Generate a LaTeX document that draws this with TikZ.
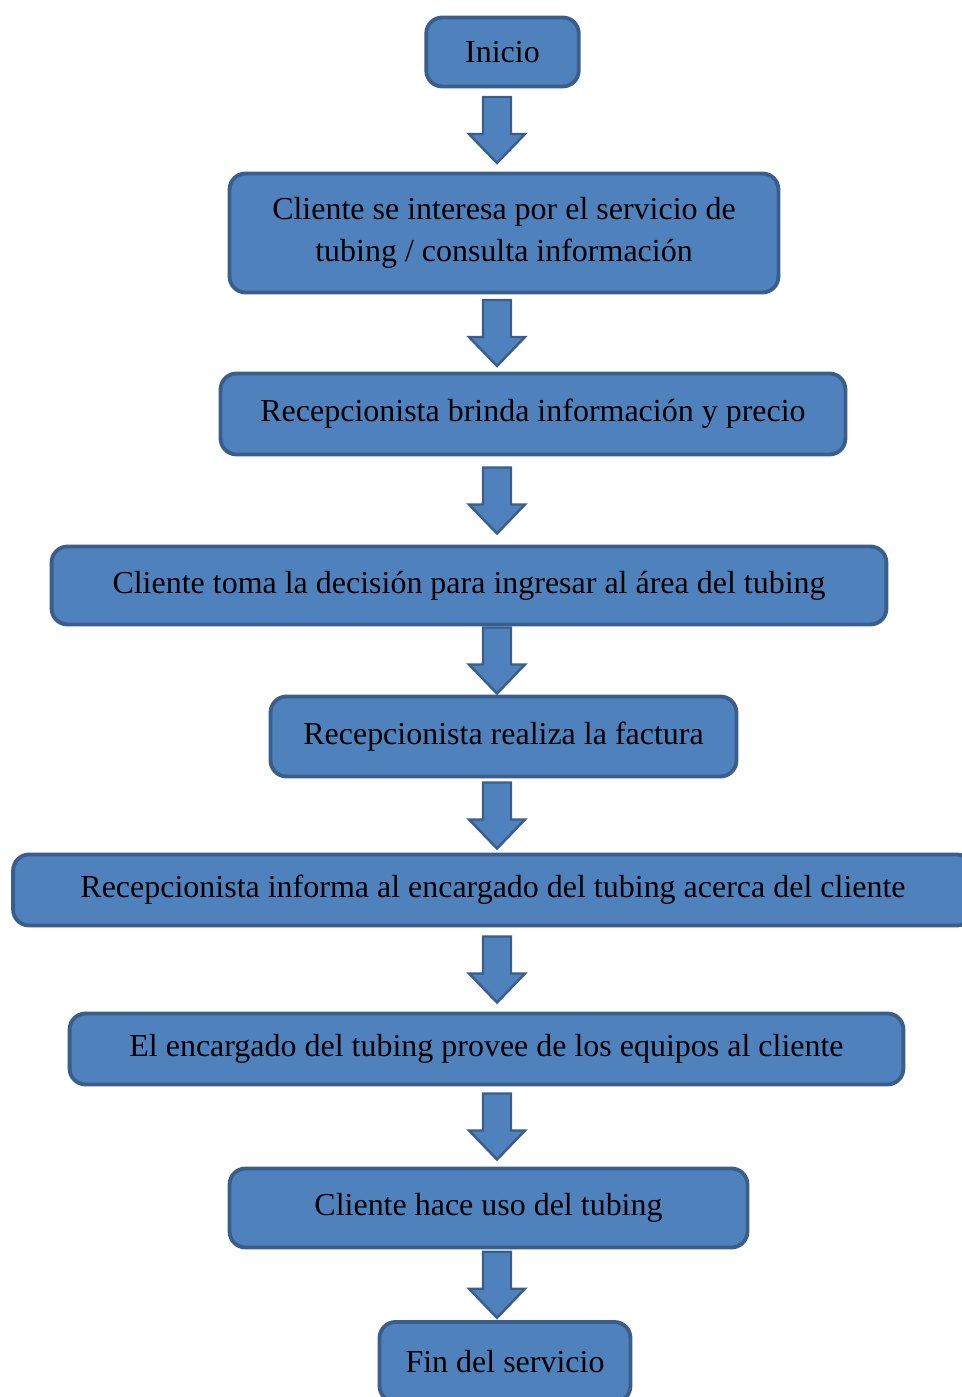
\documentclass[tikz,border=0pt]{standalone}
\usepackage{fontspec}
\setmainfont{Liberation Serif}
\usepackage{tikz}
\usetikzlibrary{calc}
\definecolor{cajaazul}{RGB}{79,129,189}
\definecolor{bordeazul}{RGB}{58,94,139}

\newcommand{\flecha}[2]{%
  \coordinate (m) at ($(eje |- #1.south)!0.5!(eje |- #2.north)$);
  \draw[flechabloque] ($(m)+(-14,33)$) -- ($(m)+(14,33)$) -- ($(m)+(14,-4)$)
    -- ($(m)+(28,-4)$) -- ($(m)+(0,-33)$) -- ($(m)+(-28,-4)$)
    -- ($(m)+(-14,-4)$) -- cycle;}

\begin{document}
\begin{tikzpicture}[
    x=0.02cm, y=0.02cm,
    font=\fontsize{18.2}{24}\selectfont,
    caja/.style={rectangle, draw=bordeazul, line width=2.2pt,
                 rounded corners=0.32cm, fill=cajaazul, align=center,
                 inner sep=0pt, text=black},
    flechabloque/.style={draw=bordeazul, fill=cajaazul, line width=1.4pt,
                         line join=miter}
]
\useasboundingbox (0,0) rectangle (961,1397);
\coordinate (eje) at (497,0);

\node[caja, minimum width=3.05cm, minimum height=1.38cm] (inicio) at (502.5,1345) {Inicio};
\node[caja, minimum width=10.98cm, minimum height=2.38cm] (interesa) at (504,1164)
    {Cliente se interesa por el servicio de\\tubing / consulta información};
\node[caja, minimum width=12.5cm, minimum height=1.62cm] (brinda) at (533,983)
    {Recepcionista brinda información y precio};
\node[caja, minimum width=16.7cm, minimum height=1.56cm] (decision) at (469,811.5)
    {Cliente toma la decisión para ingresar al área del tubing};
\node[caja, minimum width=9.32cm, minimum height=1.6cm] (factura) at (503.5,660.5)
    {Recepcionista realiza la factura};
\node[caja, minimum width=19.2cm, minimum height=1.42cm] (informa) at (493,507)
    {Recepcionista informa al encargado del tubing acerca del cliente};
\node[caja, minimum width=16.68cm, minimum height=1.42cm] (provee) at (486.5,348)
    {El encargado del tubing provee de los equipos al cliente};
\node[caja, minimum width=10.36cm, minimum height=1.58cm] (uso) at (488.5,189)
    {Cliente hace uso del tubing};
\node[caja, minimum width=5.02cm, minimum height=1.6cm] (fin) at (505,35)
    {Fin del servicio};

\flecha{inicio}{interesa}
\flecha{interesa}{brinda}
\flecha{brinda}{decision}
\flecha{decision}{factura}
\flecha{factura}{informa}
\flecha{informa}{provee}
\flecha{provee}{uso}
\flecha{uso}{fin}
\end{tikzpicture}
\end{document}
